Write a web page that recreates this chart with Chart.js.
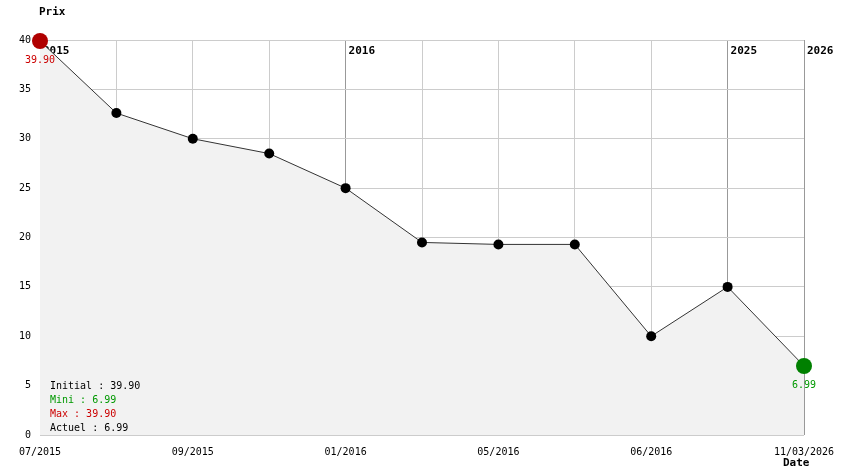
<!DOCTYPE html>
<html><head><meta charset="utf-8">
<script src="https://cdn.jsdelivr.net/npm/chart.js@4/dist/chart.umd.min.js"></script>
<style>html,body{margin:0;padding:0;background:#fff}#wrap{width:844px;height:474px;position:relative}</style>
</head><body><div id="wrap"><canvas id="c" width="844" height="474"></canvas></div>
<script>
const categories = ['07/2015','08/2015','09/2015','10/2015','01/2016','03/2016','05/2016','05/2016b','06/2016','2025','11/03/2026'];
const tickLabels = ['07/2015','','09/2015','','01/2016','','05/2016','','06/2016','','11/03/2026'];
const prices = [39.90, 32.6, 30.0, 28.5, 25.0, 19.5, 19.3, 19.3, 10.0, 15.0, 6.99];
const yearMarks = [{i:0,t:'2015'},{i:4,t:'2016'},{i:9,t:'2025'},{i:10,t:'2026'}];
const stats = [['Initial : 39.90','#000'],['Mini : 6.99','#009900'],['Max : 39.90','#cc0000'],['Actuel : 6.99','#000']];
const MONO = "'DejaVu Sans Mono', 'Liberation Mono', monospace";
const yearIdx = yearMarks.map(y=>y.i).filter(i=>i>0);

const overlay = {
  id:'overlay',
  beforeDatasetsDraw(chart){
    const {ctx, scales:{x,y}} = chart;
    ctx.save();
    ctx.font = "bold 11px " + MONO;
    ctx.fillStyle = '#000';
    ctx.textBaseline = 'middle';
    ctx.textAlign = 'left';
    yearMarks.forEach(m => ctx.fillText(m.t, x.getPixelForValue(m.i)+3, y.getPixelForValue(40)+11));
    ctx.restore();
  },
  afterDatasetsDraw(chart){
    const {ctx, scales:{x,y}} = chart;
    ctx.save();
    ctx.textBaseline = 'middle';
    ctx.font = "bold 11px " + MONO;
    ctx.fillStyle = '#000';
    ctx.textAlign = 'left';
    ctx.fillText('Prix', 39, 12);
    ctx.fillText('Date', 783, 463);
    ctx.font = "10px " + MONO;
    stats.forEach((s,k)=>{ ctx.fillStyle = s[1]; ctx.fillText(s[0], 50, 386 + k*14); });
    ctx.textAlign = 'center';
    const last = prices.length-1;
    ctx.fillStyle = '#cc0000';
    ctx.fillText(prices[0].toFixed(2), x.getPixelForValue(0), y.getPixelForValue(prices[0])+19);
    ctx.fillStyle = '#009900';
    ctx.fillText(prices[last].toFixed(2), x.getPixelForValue(last), y.getPixelForValue(prices[last])+19);
    ctx.restore();
  }
};

const n = prices.length;
new Chart(document.getElementById('c'), {
  type:'line',
  data:{ labels: categories, datasets:[{
    data: prices, clip:false,
    borderColor:'#333', borderWidth:1, tension:0,
    fill:'origin', backgroundColor:'#f2f2f2',
    pointRadius: prices.map((v,i)=> (i===0||i===n-1)?8:5),
    pointBackgroundColor: prices.map((v,i)=> i===0?'#b00000':(i===n-1?'#008000':'#000')),
    pointBorderWidth:0, pointHoverRadius: prices.map((v,i)=> (i===0||i===n-1)?8:5)
  }]},
  options:{
    responsive:false, animation:false, devicePixelRatio:1,
    layout:{padding:{left:0, top:40, right:40, bottom:0}},
    plugins:{legend:{display:false}, tooltip:{enabled:false}},
    scales:{
      x:{ type:'category', offset:false,
        afterFit(s){ s.height = 39; s.paddingLeft = 0; s.paddingRight = 0; },
        border:{display:false},
        grid:{ drawTicks:false, color:(c)=> yearIdx.includes(c.index) ? '#999999' : '#cccccc', lineWidth:1 },
        ticks:{ autoSkip:false, maxRotation:0, padding:11, color:'#000', font:{family:MONO,size:10},
          callback:(v,i)=> tickLabels[i] }
      },
      y:{ min:0, max:40,
        afterFit(s){ s.width = 40; s.paddingTop = 0; s.paddingBottom = 0; },
        border:{display:false},
        grid:{ drawTicks:false, color:'#cccccc', lineWidth:1 },
        ticks:{ stepSize:5, padding:9, color:'#000', font:{family:MONO,size:10} }
      }
    }
  },
  plugins:[overlay]
});
</script></body></html>
